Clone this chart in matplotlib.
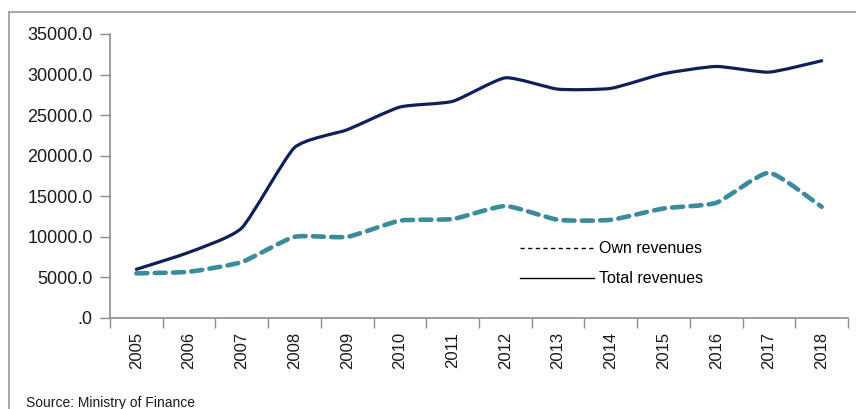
import numpy as np
import matplotlib
matplotlib.use("Agg")
import matplotlib.pyplot as plt
from matplotlib.path import Path
from matplotlib.patches import PathPatch, Rectangle
from matplotlib.lines import Line2D

# ── Data ───────────────────────────────────────────────────────────────────────
years = ["2005", "2006", "2007", "2008", "2009", "2010", "2011",
         "2012", "2013", "2014", "2015", "2016", "2017", "2018"]
total_revenues = [6000, 8100, 11100, 21000, 23200, 26000, 26700,
                  29600, 28200, 28300, 30100, 31000, 30300, 31700]
own_revenues = [5500, 5700, 6900, 10000, 10000, 12000, 12200,
                13800, 12100, 12100, 13500, 14200, 17900, 13700]
y_ticks = [0, 5000, 10000, 15000, 20000, 25000, 30000, 35000]
y_labels = [".0", "5000.0", "10000.0", "15000.0", "20000.0",
            "25000.0", "30000.0", "35000.0"]

plt.rcParams["font.family"] = ["Liberation Sans", "DejaVu Sans"]


def smooth_path(xs, ys, tension=0.09):
    # gently smoothed line (Catmull-Rom segments as cubic Beziers)
    pts = np.column_stack([xs, ys]).astype(float)
    verts = [pts[0]]
    codes = [Path.MOVETO]
    n = len(pts)
    for i in range(n - 1):
        p0 = pts[i - 1] if i > 0 else pts[i]
        p1 = pts[i]
        p2 = pts[i + 1]
        p3 = pts[i + 2] if i + 2 < n else pts[i + 1]
        c1 = p1 + (p2 - p0) * tension
        c2 = p2 - (p3 - p1) * tension
        verts += [c1, c2, p2]
        codes += [Path.CURVE4] * 3
    return Path(verts, codes)


fig = plt.figure(figsize=(8.56, 4.09), dpi=100)
ax = fig.add_axes([110 / 856, 91 / 409, 738 / 856, 284 / 409])

x = np.arange(len(years))
ax.add_patch(PathPatch(smooth_path(x, own_revenues), fill=False,
                       edgecolor="#3a8b9c", lw=3.3, linestyle=(0, (2.4, 1.6)),
                       capstyle="round"))
ax.add_patch(PathPatch(smooth_path(x, total_revenues), fill=False,
                       edgecolor="#0f1f5a", lw=2.3, capstyle="round"))

ax.set_xlim(-0.5, len(years) - 0.5)
ax.set_ylim(0, 35000)

ax.set_yticks(y_ticks)
ax.set_yticklabels(y_labels)
ax.set_xticks(x)
ax.set_xticklabels(years, rotation=90)
ax.set_xticks(np.arange(len(years) + 1) - 0.5, minor=True)
ax.tick_params(axis="x", which="major", length=0, pad=10, labelsize=12,
               labelcolor="#1a1a1a")
ax.tick_params(axis="x", which="minor", length=7, width=1, color="#8c8c8c")
ax.tick_params(axis="y", length=7, width=1, color="#8c8c8c", pad=5.5,
               labelsize=13, labelcolor="#1a1a1a")

for s in ["top", "right"]:
    ax.spines[s].set_visible(False)
for s in ["left", "bottom"]:
    ax.spines[s].set_color("#8c8c8c")
    ax.spines[s].set_linewidth(1.2)

handles = [
    Line2D([], [], color="black", lw=1, linestyle=(0, (3, 2.5))),
    Line2D([], [], color="black", lw=1),
]
ax.legend(handles, ["Own revenues", "Total revenues"], loc="upper left",
          bbox_to_anchor=(0.556, 0.27), frameon=False, fontsize=11.5,
          handlelength=4.6, handletextpad=0.3, labelspacing=0.95,
          borderpad=0, borderaxespad=0)

# outer frame (top and left border of the exhibit box)
fig.add_artist(Rectangle((9 / 856, -0.2), 1.0, 0.2 + 1 - 12 / 409,
                         transform=fig.transFigure, fill=False,
                         edgecolor="#a6a6a6", lw=1.4))

fig.text(26 / 856, 13 / 409, "Source: Ministry of Finance", fontsize=10,
         va="top", ha="left", color="#1a1a1a")

fig.savefig("out.png", dpi=100)
